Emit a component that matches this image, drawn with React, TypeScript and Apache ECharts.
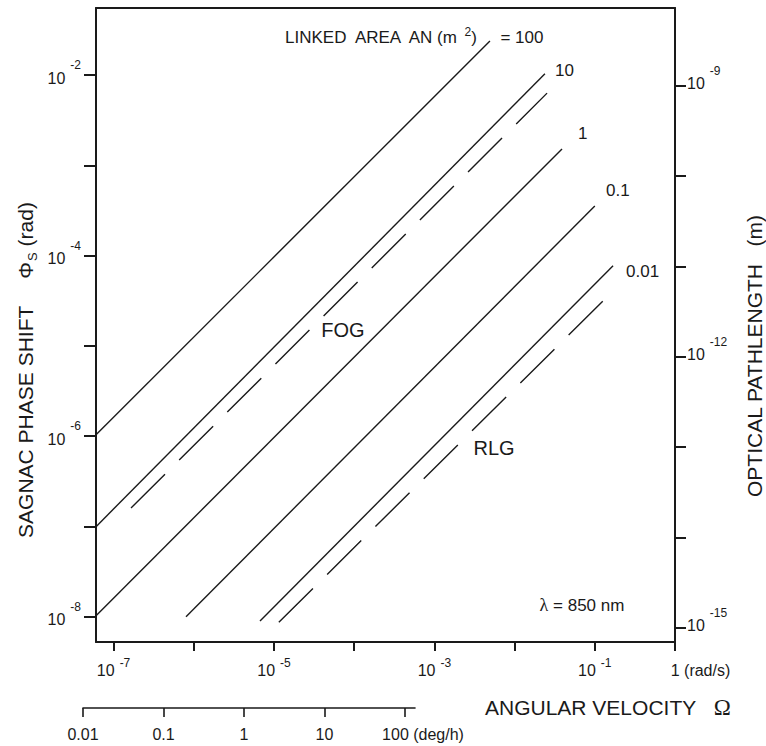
import React, { useEffect, useRef } from "react";
import * as echarts from "echarts";

// Linked area AN (m^2) for each solid line
const areaLabels = ["100", "10", "1", "0.1", "0.01"];
// Solid lines: end points, angular velocity Ω (rad/s) and Sagnac phase shift Φs (rad)
const solidOmegaStart = [6.0e-8, 6.0e-8, 6.0e-8, 8.0e-7, 6.7e-6];
const solidPhiStart = [1.03e-6, 9.9e-8, 1.02e-8, 1.0e-8, 9.0e-9];
const solidOmegaEnd = [4.93e-3, 2.39e-2, 3.9e-2, 0.1, 0.169];
const solidPhiEnd = [2.38e-2, 1.03e-2, 1.52e-3, 3.54e-4, 7.7e-5];

// Dashed lines (FOG and RLG regions)
const dashedNames = ["FOG", "RLG"];
const dashedOmegaStart = [1.65e-7, 1.15e-5];
const dashedPhiStart = [1.6e-7, 8.7e-9];
const dashedOmegaEnd = [2.54e-2, 0.138];
const dashedPhiEnd = [6.3e-3, 3.39e-5];

// Axis ticks (exponents of 10)
const omegaTickExp = [-7, -6, -5, -4, -3, -2, -1, 0];
const omegaLabelExp = [-7, -5, -3, -1, 0];
const phiTickExp = [-8, -7, -6, -5, -4, -3, -2];
const phiLabelExp = [-8, -6, -4, -2];
const pathTickExp = [-15, -14, -13, -12, -11, -10, -9];
const pathLabelExp = [-15, -12, -9];
const degTickExp = [-2, -1, 0, 1, 2];
const degLabels = ["0.01", "0.1", "1", "10", "100"];

// Axis ranges (log10)
const omegaRange = [-7.219, 0];
const phiRange = [-8.279, -1.258];
const pathOffset = -6.88; // log10(λ / 2π), λ = 850 nm
const degRange = [-2, 2.124];

const FONT = "Liberation Sans, Arial, Helvetica, sans-serif";
const SERIF = "Liberation Serif, Times New Roman, serif";
const INK = "#1a1a1a";
const l10 = Math.log10;

export default function App() {
  const ref = useRef<HTMLDivElement>(null);
  useEffect(() => {
    const chart = echarts.init(ref.current!, null, { renderer: "svg" });

    const solidSeries = areaLabels.map((name, i) => ({
      type: "line",
      name: "AN = " + name,
      xAxisIndex: 0,
      yAxisIndex: 0,
      showSymbol: false,
      symbol: "none",
      silent: true,
      lineStyle: { color: INK, width: 1.4 },
      data: [
        [l10(solidOmegaStart[i]), l10(solidPhiStart[i])],
        [l10(solidOmegaEnd[i]), l10(solidPhiEnd[i])],
      ],
    }));
    const dashedSeries = dashedNames.map((name, i) => ({
      type: "line",
      name,
      xAxisIndex: 0,
      yAxisIndex: 0,
      showSymbol: false,
      symbol: "none",
      silent: true,
      lineStyle: { color: INK, width: 1.4, type: [48, 20] },
      data: [
        [l10(dashedOmegaStart[i]), l10(dashedPhiStart[i])],
        [l10(dashedOmegaEnd[i]), l10(dashedPhiEnd[i])],
      ],
    }));

    const supRichSide = {
      b: { fontSize: 16, lineHeight: 16, verticalAlign: "bottom", fontFamily: FONT, color: INK },
      s: { fontSize: 12, verticalAlign: "top", padding: [0, 0, 15, 5], fontFamily: FONT, color: INK },
    };
    const supRichBottom = {
      b: { fontSize: 16, lineHeight: 16, verticalAlign: "bottom", fontFamily: FONT, color: INK },
      s: { fontSize: 12, verticalAlign: "top", padding: [0, 0, 9, 5], fontFamily: FONT, color: INK },
      one: { fontSize: 16, verticalAlign: "top", padding: [5, 0, 0, 51], fontFamily: FONT, color: INK },
    };
    const axisLine = { show: true, onZero: false, lineStyle: { color: INK, width: 2 } };

    const option = {
      animation: false,
      backgroundColor: "#ffffff",
      grid: [
        { left: 96, top: 8, width: 579, height: 634, containLabel: false },
        { left: 83, top: 707, width: 332, height: 1, containLabel: false },
      ],
      xAxis: [
        {
          type: "value",
          gridIndex: 0,
          position: "bottom",
          min: omegaRange[0],
          max: omegaRange[1],
          axisLine,
          splitLine: { show: false },
          axisTick: { show: true, length: 9, customValues: omegaTickExp, lineStyle: { color: INK, width: 2 } },
          axisLabel: {
            show: true,
            margin: 15,
            customValues: omegaLabelExp,
            formatter: (v: number) => (Math.round(v) === 0 ? "{one|1 (rad/s)}" : `{b|10}{s|${Math.round(v)}}`),
            rich: supRichBottom,
          },
        },
        {
          type: "value",
          gridIndex: 0,
          position: "top",
          min: omegaRange[0],
          max: omegaRange[1],
          axisLine,
          splitLine: { show: false },
          axisTick: { show: false },
          axisLabel: { show: false },
        },
        {
          type: "value",
          gridIndex: 1,
          position: "bottom",
          min: degRange[0],
          max: degRange[1],
          axisLine: { show: true, onZero: false, lineStyle: { color: INK, width: 1.6 } },
          splitLine: { show: false },
          axisTick: { show: true, length: 9, customValues: degTickExp, lineStyle: { color: INK, width: 1.6 } },
          axisLabel: {
            show: true,
            margin: 18,
            customValues: degTickExp,
            formatter: (v: number) => {
              const idx = degTickExp.indexOf(Math.round(v));
              const t = degLabels[idx];
              return idx === degTickExp.length - 1 ? `{last|${t} (deg/h)}` : `{n|${t}}`;
            },
            rich: {
              n: { fontSize: 16, fontFamily: FONT, color: INK },
              last: { fontSize: 16, fontFamily: FONT, color: INK, padding: [0, 0, 0, 36] },
            },
          },
        },
      ],
      yAxis: [
        {
          type: "value",
          gridIndex: 0,
          position: "left",
          min: phiRange[0],
          max: phiRange[1],
          axisLine,
          splitLine: { show: false },
          axisTick: { show: true, length: 12, customValues: phiTickExp, lineStyle: { color: INK, width: 2 } },
          axisLabel: {
            show: true,
            margin: 15,
            customValues: phiLabelExp,
            padding: [0, 0, 5, 0],
            formatter: (v: number) => `{b|10}{s|${Math.round(v)}}`,
            rich: supRichSide,
          },
        },
        {
          type: "value",
          gridIndex: 0,
          position: "right",
          min: phiRange[0] + pathOffset,
          max: phiRange[1] + pathOffset,
          axisLine,
          splitLine: { show: false },
          axisTick: { show: true, length: 11, customValues: pathTickExp, lineStyle: { color: INK, width: 2 } },
          axisLabel: {
            show: true,
            margin: 12,
            customValues: pathLabelExp,
            padding: [0, 0, 15, 0],
            formatter: (v: number) => `{b|10}{s|${Math.round(v)}}`,
            rich: supRichSide,
          },
        },
        {
          type: "value",
          gridIndex: 1,
          show: false,
          min: 0,
          max: 1,
          splitLine: { show: false },
        },
      ],
      graphic: [
        {
          type: "text",
          x: 27,
          y: 370,
          rotation: Math.PI / 2,
          style: {
            text: "{t|SAGNAC PHASE SHIFT}{g|}{p|Φ}{sub|S}{t| (rad)}",
            textAlign: "center",
            textVerticalAlign: "middle",
            fill: INK,
            rich: {
              t: { fontSize: 21, fontFamily: FONT, fill: INK, verticalAlign: "top", lineHeight: 22 },
              g: { width: 27, lineHeight: 22 },
              p: { fontSize: 21, fontFamily: FONT, fill: INK, verticalAlign: "top", lineHeight: 22 },
              sub: { fontSize: 13, fontFamily: FONT, fill: INK, verticalAlign: "bottom", padding: [11, 0, 0, 1] },
            },
          },
        },
        {
          type: "text",
          x: 754,
          y: 356,
          rotation: Math.PI / 2,
          style: {
            text: "OPTICAL PATHLENGTH   (m)",
            textAlign: "center",
            textVerticalAlign: "middle",
            font: `21px ${FONT}`,
            fill: INK,
          },
        },
        {
          type: "text",
          x: 485,
          y: 707,
          style: {
            text: "{t|ANGULAR VELOCITY}{t|   }{o|Ω}",
            textAlign: "left",
            textVerticalAlign: "middle",
            rich: {
              t: { fontSize: 21, fontFamily: FONT, fill: INK },
              o: { fontSize: 23, fontFamily: SERIF, fill: INK },
            },
          },
        },
        {
          type: "text",
          x: 285,
          y: 36,
          style: {
            text: "{a|LINKED  AREA  AN (m }{s|2}{a|)     = 100}",
            textAlign: "left",
            textVerticalAlign: "middle",
            rich: {
              a: { fontSize: 17, fontFamily: FONT, fill: INK, verticalAlign: "bottom", lineHeight: 18 },
              s: { fontSize: 12, fontFamily: FONT, fill: INK, verticalAlign: "top", padding: [0, 0, 8, 0] },
            },
          },
        },
        { type: "text", x: 555, y: 70, style: { text: "10", font: `17px ${FONT}`, fill: INK, textAlign: "left", textVerticalAlign: "middle" } },
        { type: "text", x: 578, y: 133, style: { text: "1", font: `17px ${FONT}`, fill: INK, textAlign: "left", textVerticalAlign: "middle" } },
        { type: "text", x: 606, y: 190, style: { text: "0.1", font: `17px ${FONT}`, fill: INK, textAlign: "left", textVerticalAlign: "middle" } },
        { type: "text", x: 626, y: 271, style: { text: "0.01", font: `17px ${FONT}`, fill: INK, textAlign: "left", textVerticalAlign: "middle" } },
        { type: "text", x: 343, y: 330, style: { text: "FOG", font: `20px ${FONT}`, fill: INK, textAlign: "center", textVerticalAlign: "middle" } },
        { type: "text", x: 494, y: 448, style: { text: "RLG", font: `20px ${FONT}`, fill: INK, textAlign: "center", textVerticalAlign: "middle" } },
        {
          type: "text",
          x: 582,
          y: 605,
          style: {
            text: "{l|λ}{t| = 850 nm}",
            textAlign: "center",
            textVerticalAlign: "middle",
            rich: {
              l: { fontSize: 18, fontFamily: SERIF, fill: INK },
              t: { fontSize: 17, fontFamily: FONT, fill: INK },
            },
          },
        },
      ],
      series: [...solidSeries, ...dashedSeries],
    };

    chart.setOption(option as any);
    return () => chart.dispose();
  }, []);

  return (
    <div
      ref={ref}
      style={{ position: "absolute", left: 0, top: 0, width: 766, height: 746, background: "#fff" }}
    />
  );
}
